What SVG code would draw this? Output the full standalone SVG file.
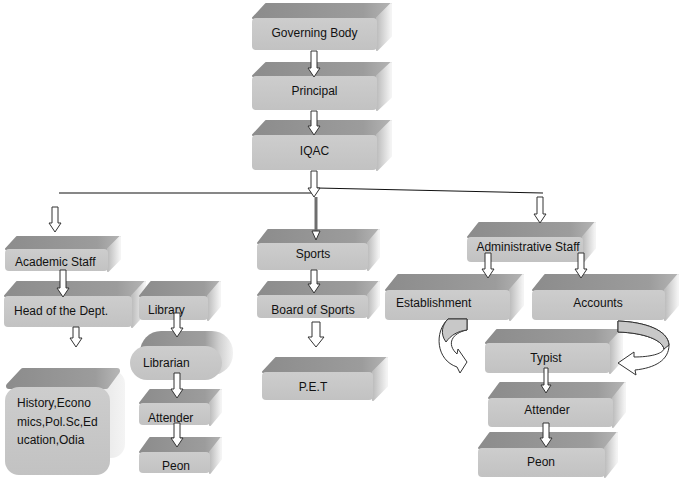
<svg xmlns="http://www.w3.org/2000/svg" width="684" height="481" viewBox="0 0 684 481">
<defs>
<linearGradient id="topG" x1="0" y1="0" x2="1" y2="0"><stop offset="0" stop-color="#8c8c8c"/><stop offset="0.8" stop-color="#9c9c9c"/><stop offset="1" stop-color="#b4b4b4"/></linearGradient>
<linearGradient id="sideG" x1="0" y1="0" x2="1" y2="0"><stop offset="0" stop-color="#bdbdbd"/><stop offset="1" stop-color="#f4f4f4"/></linearGradient>
<linearGradient id="pillG" x1="0" y1="0" x2="1" y2="0"><stop offset="0" stop-color="#8c8c8c"/><stop offset="0.7" stop-color="#9e9e9e"/><stop offset="0.85" stop-color="#cfcfcf"/><stop offset="1" stop-color="#f2f2f2"/></linearGradient>
<linearGradient id="frontG" x1="0" y1="0" x2="0" y2="1"><stop offset="0" stop-color="#cdcdcd"/><stop offset="1" stop-color="#c2c2c2"/></linearGradient>
<style>
.top{fill:url(#topG);stroke:url(#topG);stroke-width:2;stroke-linejoin:round}
.side{fill:url(#sideG);stroke:url(#sideG);stroke-width:2;stroke-linejoin:round}
.front{fill:url(#frontG)}
text{font-family:"Liberation Sans",Arial,sans-serif;font-size:12px;fill:#111}
.c{text-anchor:middle}
.arr{fill:#fff;stroke:#333;stroke-width:1}
.ln{stroke:#111;stroke-width:1.2;fill:none}
</style>
</defs>
<rect width="684" height="481" fill="#fff"/>

<g id="governing-body"><polygon class="top" points="253,18 266,4 391,4 377,18"/><polygon class="side" points="377,18 391,4 391,36 377,50"/><rect class="front" x="252" y="18" width="125" height="32" rx="4"/><text class="c" x="314.5" y="37">Governing Body</text></g>
<g id="principal"><polygon class="top" points="253,76 266,63 391,63 377,76"/><polygon class="side" points="377,76 391,63 391,97 377,110"/><rect class="front" x="252" y="76" width="125" height="34" rx="4"/><text class="c" x="314.5" y="95">Principal</text></g>
<g id="iqac"><polygon class="top" points="253,135 266,121 391,121 377,135"/><polygon class="side" points="377,135 391,121 391,156 377,170"/><rect class="front" x="252" y="135" width="125" height="35" rx="4"/><text class="c" x="314.5" y="155">IQAC</text></g>

<g id="academic-staff"><polygon class="top" points="6,249 17,237 120,237 108,249"/><polygon class="side" points="108,249 120,237 120,259 108,271"/><rect class="front" x="5" y="249" width="103" height="22" rx="4"/><text x="15" y="266">Academic Staff</text></g>
<g id="head-dept"><polygon class="top" points="5,296 17,282 145,282 132,296"/><polygon class="side" points="132,296 145,282 145,313 132,327"/><rect class="front" x="4" y="296" width="128" height="31" rx="4"/><text x="14" y="315">Head of the Dept.</text></g>
<g id="library"><polygon class="top" points="140,296 151,282 220,282 208,296"/><polygon class="side" points="208,296 220,282 220,306 208,320"/><rect class="front" x="139" y="296" width="69" height="24" rx="4"/><text x="148" y="314">Library</text></g>
<g id="librarian"><rect x="140" y="331" width="93" height="44" rx="21" fill="url(#pillG)"/><rect class="front" x="130" y="346" width="92" height="34" rx="17"/><text x="143" y="367">Librarian</text></g>
<g id="attender-lib"><polygon class="top" points="140,403 150,390 221,390 210,403"/><polygon class="side" points="210,403 221,390 221,412 210,425"/><rect class="front" x="139" y="403" width="71" height="22" rx="4"/><text x="148" y="422">Attender</text></g>
<g id="peon-lib"><polygon class="top" points="140,452 150,438 221,438 210,452"/><polygon class="side" points="210,452 221,438 221,459 210,473"/><rect class="front" x="139" y="452" width="71" height="21" rx="4"/><text class="c" x="176" y="470">Peon</text></g>
<g id="departments"><rect x="20" y="370" width="105" height="88" rx="14" fill="url(#sideG)"/><polygon class="top" points="9,386 23,371 117,371 106,386" style="stroke-width:6"/><rect class="front" x="5" y="387" width="105" height="88" rx="14"/><text x="17" y="407">History,Econo</text><text x="17" y="426">mics,Pol.Sc,Ed</text><text x="17" y="444">ucation,Odia</text></g>

<g id="sports"><polygon class="top" points="258,243 268,230 379,230 368,243"/><polygon class="side" points="368,243 379,230 379,257 368,270"/><rect class="front" x="257" y="243" width="111" height="27" rx="4"/><text class="c" x="313" y="258">Sports</text></g>
<g id="board-sports"><polygon class="top" points="258,295 268,282 379,282 368,295"/><polygon class="side" points="368,295 379,282 379,305 368,318"/><rect class="front" x="257" y="295" width="111" height="23" rx="4"/><text class="c" x="313" y="314">Board of Sports</text></g>
<g id="pet"><polygon class="top" points="263,372 276,358 387,358 373,372"/><polygon class="side" points="373,372 387,358 387,386 373,400"/><rect class="front" x="262" y="372" width="111" height="28" rx="4"/><text class="c" x="313" y="391">P.E.T</text></g>

<g id="admin-staff"><polygon class="top" points="468,237 479,223 595,223 583,237"/><polygon class="side" points="583,237 595,223 595,248 583,262"/><rect class="front" x="467" y="237" width="116" height="25" rx="4"/><text class="c" x="528" y="251">Administrative Staff</text></g>
<g id="establishment"><polygon class="top" points="386,290 398,275 523,275 510,290"/><polygon class="side" points="510,290 523,275 523,305 510,320"/><rect class="front" x="385" y="290" width="125" height="30" rx="4"/><text x="396" y="307">Establishment</text></g>
<g id="accounts"><polygon class="top" points="533,290 545,275 678,275 665,290"/><polygon class="side" points="665,290 678,275 678,305 665,320"/><rect class="front" x="532" y="290" width="133" height="30" rx="4"/><text class="c" x="598" y="307">Accounts</text></g>
<g id="typist"><polygon class="top" points="486,343 497,330 622,330 610,343"/><polygon class="side" points="610,343 622,330 622,360 610,373"/><rect class="front" x="485" y="343" width="125" height="30" rx="4"/><text class="c" x="546" y="362">Typist</text></g>
<g id="attender-adm"><polygon class="top" points="489,398 500,383 625,383 613,398"/><polygon class="side" points="613,398 625,383 625,412 613,427"/><rect class="front" x="488" y="398" width="125" height="29" rx="4"/><text class="c" x="547" y="414">Attender</text></g>
<g id="peon-adm"><polygon class="top" points="479,448 490,433 617,433 605,448"/><polygon class="side" points="605,448 617,433 617,462 605,477"/><rect class="front" x="478" y="448" width="127" height="29" rx="4"/><text class="c" x="541" y="466">Peon</text></g>

<g id="connectors">
<line class="ln" x1="59" y1="193" x2="312" y2="193"/>
<line class="ln" x1="317" y1="188" x2="543" y2="193"/>
<line x1="316" y1="197" x2="316" y2="232" stroke="#6e6e6e" stroke-width="3"/>
<path class="arr" d="M312,231 L320,231 L316,240 Z"/>
<path class="arr" d="M311,51 L317,51 L317,68 L320,68 L314,77 L308,68 L311,68 Z"/>
<path class="arr" d="M311,111 L317,111 L317,126 L320,126 L314,135 L308,126 L311,126 Z"/>
<path class="arr" d="M311,171 L317,171 L317,188 L320,188 L314,197 L308,188 L311,188 Z"/>
<path class="arr" d="M52,207 L58,207 L58,223 L61,223 L55,232 L49,223 L52,223 Z"/>
<path class="arr" d="M537,197 L543,197 L543,214 L546,214 L540,223 L534,214 L537,214 Z"/>
<path class="arr" d="M60,270 L66,270 L66,288 L69,288 L63,297 L57,288 L60,288 Z"/>
<path class="arr" d="M73,327 L79,327 L79,338 L82,338 L76,347 L70,338 L73,338 Z"/>
<path class="arr" d="M174,313 L180,313 L180,328 L183,328 L177,337 L171,328 L174,328 Z"/>
<path class="arr" d="M174,373 L180,373 L180,389 L183,389 L177,398 L171,389 L174,389 Z"/>
<path class="arr" d="M174,423 L180,423 L180,438 L183,438 L177,447 L171,438 L174,438 Z"/>
<path class="arr" d="M311,270 L317,270 L317,284 L320,284 L314,293 L308,284 L311,284 Z"/>
<path class="arr" d="M312,322 L320,322 L320,337 L324,337 L316,347 L308,337 L312,337 Z"/>
<path class="arr" d="M485,253 L491,253 L491,269 L494,269 L488,278 L482,269 L485,269 Z"/>
<path class="arr" d="M578,253 L584,253 L584,269 L587,269 L581,278 L575,269 L578,269 Z"/>
<path class="arr" d="M544,368 L548,368 L548,385 L551,385 L546,393 L541,385 L544,385 Z"/>
<path class="arr" d="M543,423 L549,423 L549,438 L552,438 L546,447 L540,438 L543,438 Z"/>
<path class="arr" d="M448,319 L467,319 L467,330 C452,333 446,344 457,354 L458,349 L467,362 L460,373 L457,367 C436,360 434,332 448,319 Z"/>
<path d="M448,319 L467,319 L467,330 C458,331 451,335 446,342 C440,334 442,325 448,319 Z" fill="#c8c8c8" stroke="#333" stroke-width="1"/>
<path class="arr" d="M618,321 C645,322 668,330 669,345 C669,360 655,368 635,370 L636,375 L618,363 L634,352 L634,357 C650,357 662,354 664,349 C662,340 645,333 618,332 Z"/>
<path d="M618,321 C645,322 668,330 669,345 L664,349 C662,340 645,333 618,332 Z" fill="#c8c8c8" stroke="#333" stroke-width="1"/>
</g>
</svg>
